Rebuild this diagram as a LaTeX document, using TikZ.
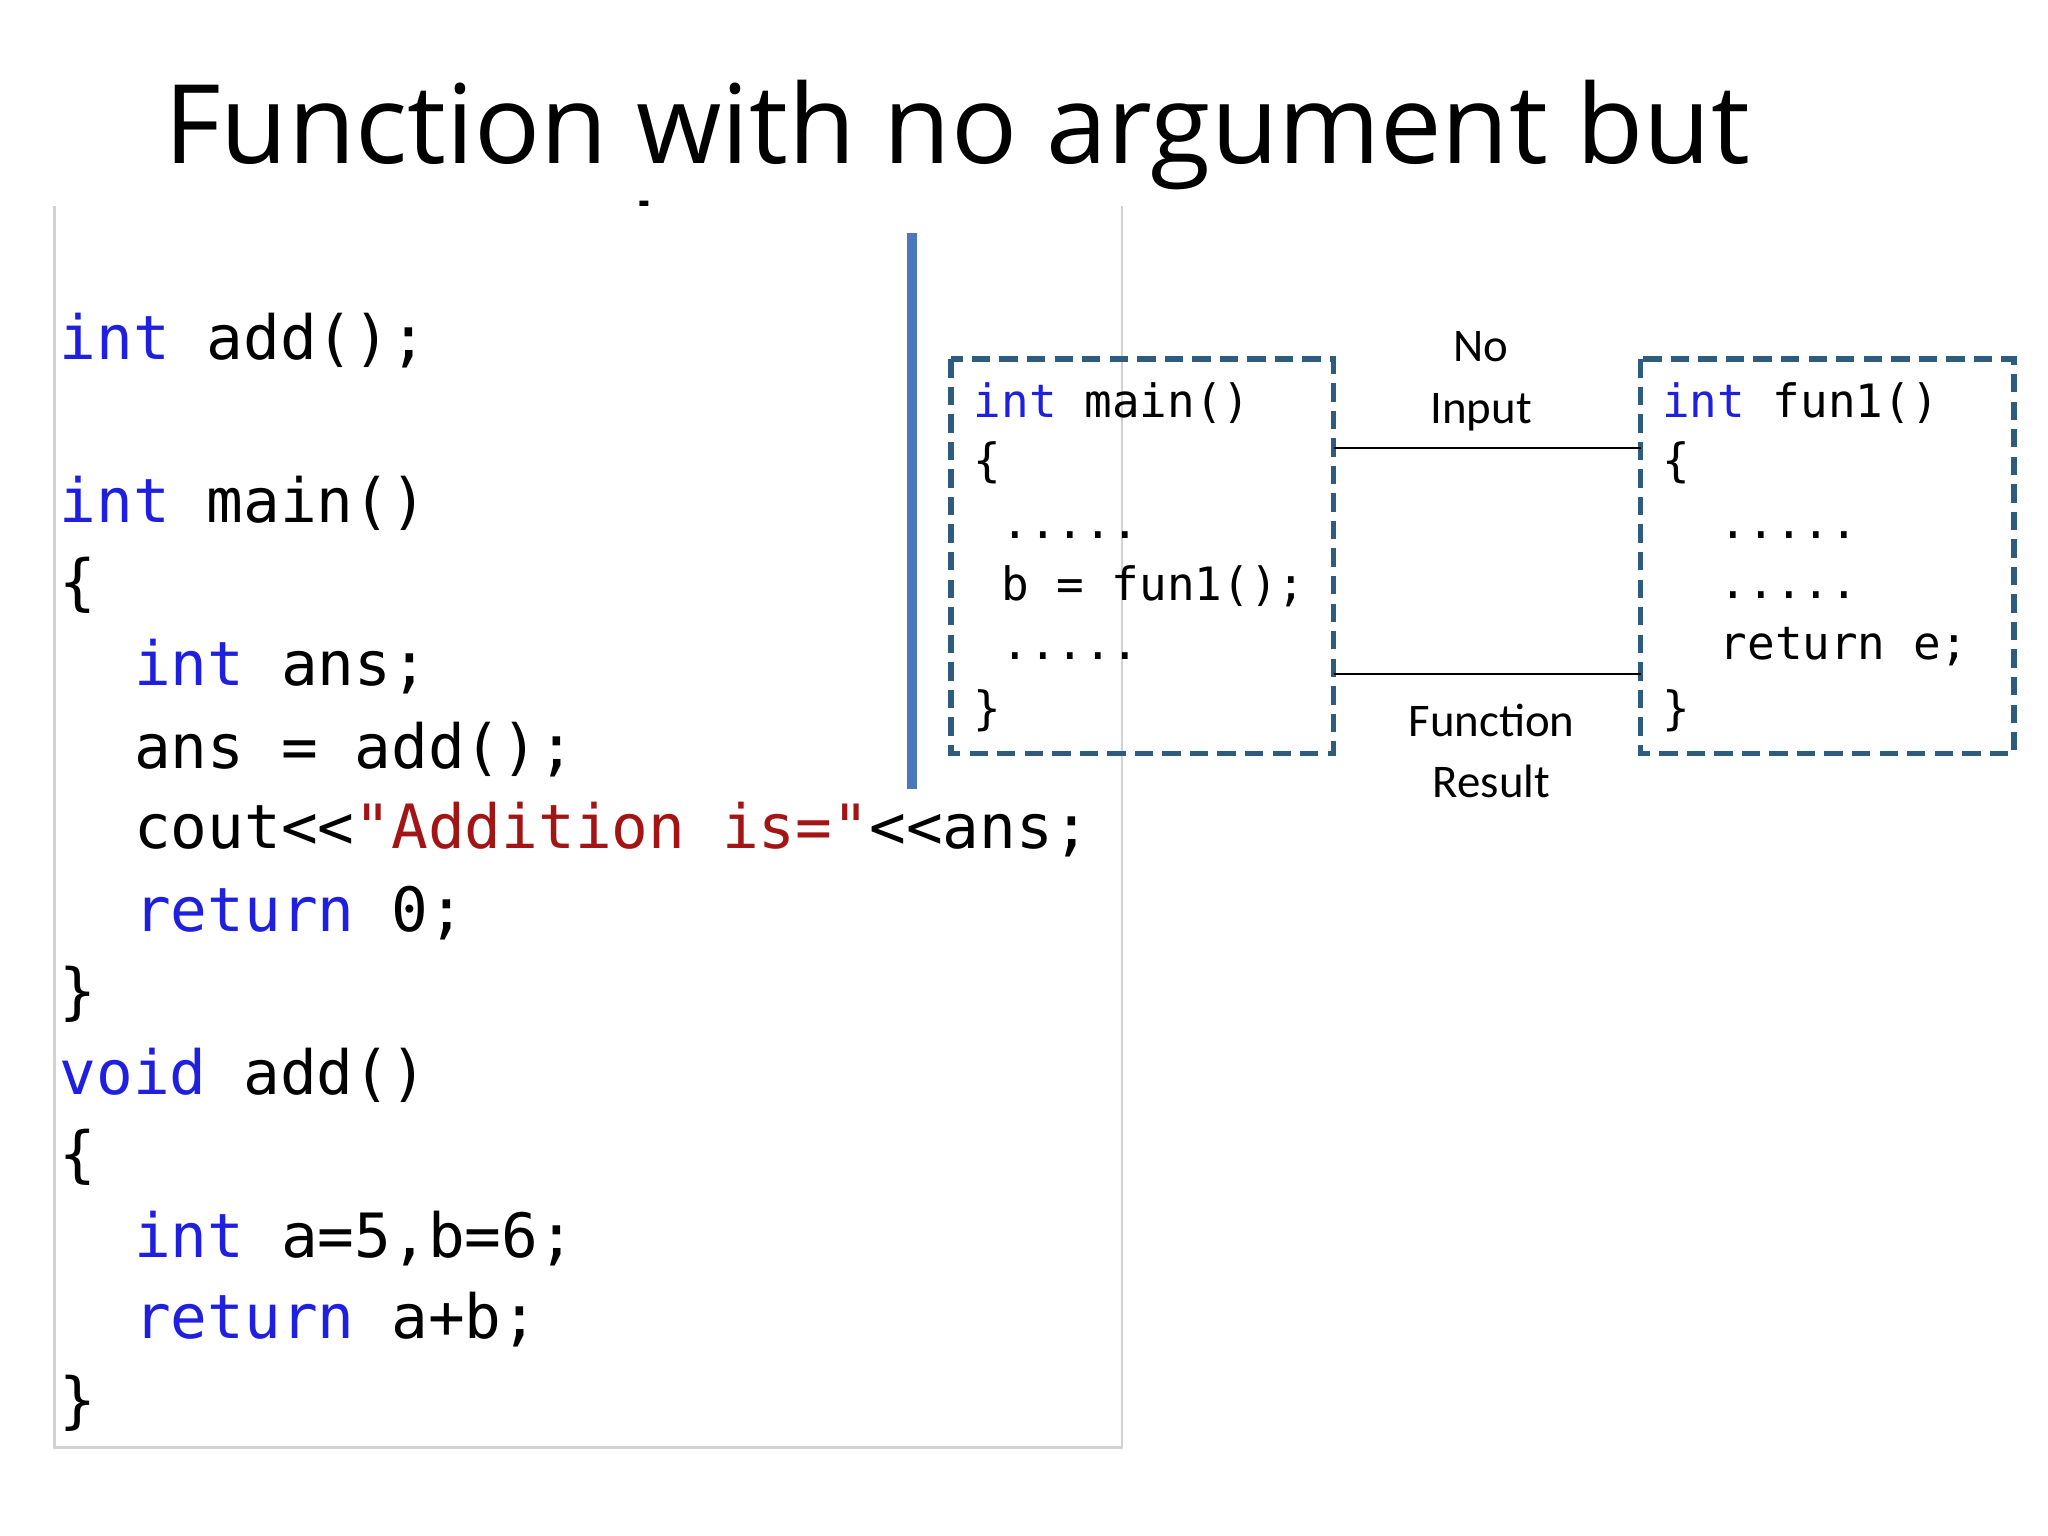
\documentclass[tikz,border=0pt]{standalone}
\usepackage{fontspec}
\setmainfont{Open Sans}
\newfontfamily\codefont{DejaVu Sans Mono}
\newfontfamily\labfont{Carlito}
\definecolor{kw}{HTML}{1F1FE0}
\definecolor{str}{HTML}{A31515}
\definecolor{boxc}{HTML}{2E5C7E}
\definecolor{vline}{HTML}{4A78B8}
\begin{document}
\begin{tikzpicture}[x=0.1mm,y=-0.1mm,
  big/.style={anchor=base west,inner sep=0,font=\codefont\fontsize{13.3pt}{16pt}\selectfont},
  small/.style={anchor=base west,inner sep=0,font=\codefont\fontsize{10pt}{12pt}\selectfont},
  lab/.style={align=center,inner sep=0,font=\labfont\fontsize{10.2pt}{13.4pt}\selectfont},
  dbox/.style={draw=boxc,dashed,line width=1.2pt,dash pattern=on 4pt off 2pt}]
\useasboundingbox (0,0) rectangle (1568,1176);
\fill[white] (0,0) rectangle (1568,1176);
\node[anchor=base west,inner sep=0,font=\fontsize{23.9pt}{29pt}\selectfont] (t1) at (125,125) {Function with no argument but};
\node[anchor=base west,inner sep=0,font=\fontsize{23.9pt}{29pt}\selectfont] (t2) at (125,218) {return value};
\fill[white] (42,158) rectangle (859,1108);
\draw[gray!35,line width=0.6pt] (42,158) -- (42,1108) -- (859,1108) -- (859,158);
\draw[vline,line width=2.2pt] (698,178) -- (698,604);
\node[big] (c1) at (45,275) {\textcolor{kw}{int} add();};
\node[big] (c2) at (45,400) {\textcolor{kw}{int} main()};
\node[big] (c3) at (45,462) {\{};
\node[big] (c4) at (102,525) {\textcolor{kw}{int} ans;};
\node[big] (c5) at (102,588) {ans = add();};
\node[big] (c6) at (102,650) {cout<<\textcolor{str}{"Addition is="}<<ans;};
\node[big] (c7) at (102,713) {\textcolor{kw}{return} 0;};
\node[big] (c8) at (45,775) {\}};
\node[big] (c9) at (45,838) {\textcolor{kw}{void} add()};
\node[big] (c10) at (45,900) {\{};
\node[big] (c11) at (102,963) {\textcolor{kw}{int} a=5,b=6;};
\node[big] (c12) at (102,1025) {\textcolor{kw}{return} a+b;};
\node[big] (c13) at (45,1088) {\}};
% right diagram
\draw[dbox] (728,275) rectangle (1021,577);
\draw[dbox] (1256,275) rectangle (1542,577);
\coordinate (m1) at (1021,343); \coordinate (f1) at (1256,343);
\coordinate (m2) at (1021,516); \coordinate (f2) at (1256,516);
\draw[line width=0.6pt] (m1) -- (f1);
\draw[line width=0.6pt] (m2) -- (f2);
\node[lab] (ni) at (1134,292) {No\\Input};
\node[lab] (fr) at (1142,575) {Function\\Result};
\node[small] (a1) at (745,320) {\textcolor{kw}{int} main()};
\node[small] (a2) at (745,365) {\{};
\node[small] (a3) at (766,412) {.....};
\node[small] (a4) at (766,460) {b = fun1();};
\node[small] (a5) at (766,505) {.....};
\node[small] (a6) at (745,555) {\}};
\node[small] (b1) at (1272,320) {\textcolor{kw}{int} fun1()};
\node[small] (b2) at (1272,365) {\{};
\node[small] (b3) at (1316,412) {.....};
\node[small] (b4) at (1316,458) {.....};
\node[small] (b5) at (1316,505) {return e;};
\node[small] (b6) at (1272,555) {\}};
\end{tikzpicture}
\end{document}
